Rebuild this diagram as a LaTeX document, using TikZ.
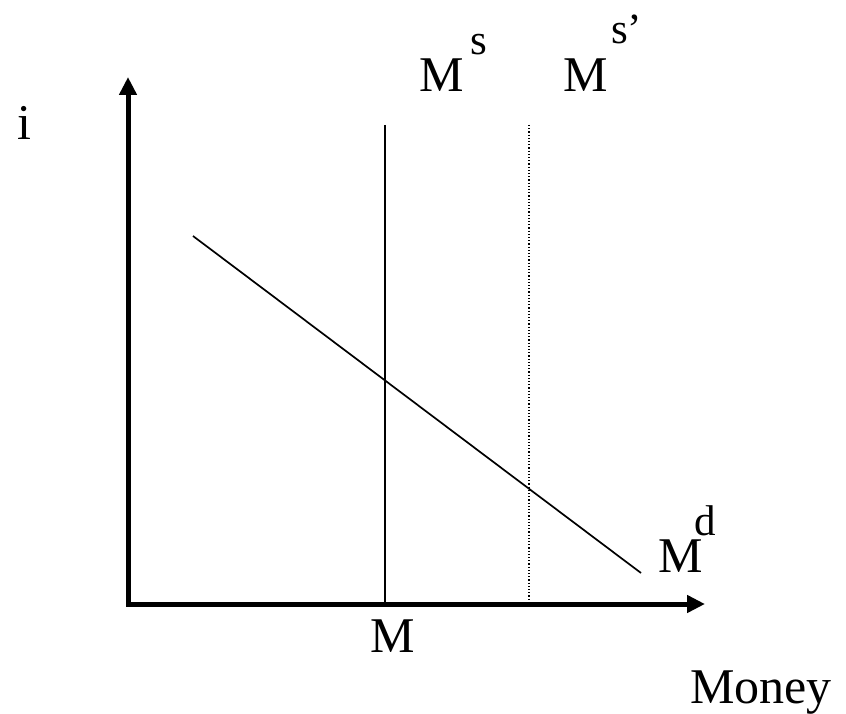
\documentclass[tikz,border=0pt]{standalone}
\usepackage{fontspec}
\setmainfont{Liberation Serif}
\usetikzlibrary{arrows.meta}
\tikzset{
  axis/.style={line width=5pt, line join=miter, {Triangle[length=18pt,width=17pt]}-{Triangle[length=18pt,width=17pt]}},
  curve/.style={line width=1.7pt},
  shifted/.style={line width=1.2pt, dash pattern=on 1.2pt off 2pt},
  big/.style={inner sep=0pt, anchor=base west, font=\fontsize{50}{60}\selectfont},
  sup/.style={inner sep=0pt, anchor=base west, font=\fontsize{43}{50}\selectfont}
}
\begin{document}
\begin{tikzpicture}[x=1pt,y=-1pt]
\useasboundingbox (0,0) rectangle (846,714);
% axes
\coordinate (ytip) at (128,77);
\coordinate (origin) at (128,604);
\coordinate (xtip) at (705,604);
\draw[axis] (ytip) -- (origin) -- (xtip);
% money supply
\coordinate (mstop) at (385,125);
\coordinate (msbot) at (385,604);
\draw[curve] (mstop) -- (msbot);
\coordinate (ms2top) at (529,125);
\coordinate (ms2bot) at (529,604);
\draw[shifted] (ms2top) -- (ms2bot);
% money demand
\coordinate (mdstart) at (193,236);
\coordinate (mdend) at (641,573);
\draw[curve] (mdstart) -- (mdend);
% labels
\node[big] (ilabel) at (17,140) {i};
\node[big] (msM) at (419,92) {M};
\node[sup] (mss) at (470,55) {s};
\node[big] (ms2M) at (563,92) {M};
\node[sup] (ms2s) at (611,44) {s’};
\node[big] (mdM) at (658,572) {M};
\node[sup] (mdd) at (694,535) {d};
\node[big] (mlabel) at (370,652) {M};
\node[big] (money) at (690,703) {Money};
\end{tikzpicture}
\end{document}
